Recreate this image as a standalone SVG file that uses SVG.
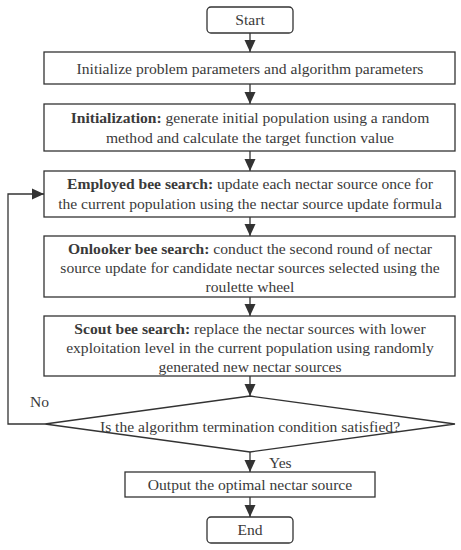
<svg xmlns="http://www.w3.org/2000/svg" width="461" height="550" viewBox="0 0 461 550">
<style>
.box{fill:#fff;stroke:#333;stroke-width:1.3}
.t{font-family:'Liberation Serif',serif;font-size:15.6px;fill:#3a3a3a;text-anchor:middle}
.l{font-family:'Liberation Serif',serif;font-size:15.6px;fill:#3a3a3a}
.b{font-weight:bold}
.c{fill:none;stroke:#333;stroke-width:1.3}
</style>
<defs>
<marker id="ah" markerUnits="userSpaceOnUse" markerWidth="12" markerHeight="14" viewBox="0 0 12 14" refX="12" refY="7" orient="auto">
<path d="M0,1.5 L12,7 L0,12.5 Z" fill="#333"/>
</marker>
</defs>
<rect width="461" height="550" fill="#fff"/>
<g id="connectors">
<line class="c" x1="250" y1="33" x2="250" y2="52" marker-end="url(#ah)"/>
<line class="c" x1="250" y1="84" x2="250" y2="104" marker-end="url(#ah)"/>
<line class="c" x1="250" y1="151" x2="250" y2="171" marker-end="url(#ah)"/>
<line class="c" x1="250" y1="217" x2="250" y2="236" marker-end="url(#ah)"/>
<line class="c" x1="250" y1="297" x2="250" y2="316" marker-end="url(#ah)"/>
<line class="c" x1="250" y1="376" x2="250" y2="396" marker-end="url(#ah)"/>
<line class="c" x1="250" y1="452" x2="250" y2="472" marker-end="url(#ah)"/>
<line class="c" x1="250" y1="497" x2="250" y2="517" marker-end="url(#ah)"/>
<polyline class="c" points="45,424 8,424 8,194 44,194" marker-end="url(#ah)"/>
<text class="l" x="30" y="407">No</text>
<text class="l" x="269" y="468">Yes</text>
</g>
<g id="start">
<rect class="box" x="207" y="7" width="86" height="26" rx="4"/>
<text class="t" x="250" y="25">Start</text>
</g>
<g id="init-params">
<rect class="box" x="44" y="52" width="411" height="32"/>
<text class="t" x="250" y="74">Initialize problem parameters and algorithm parameters</text>
</g>
<g id="initialization">
<rect class="box" x="44" y="104" width="411" height="47"/>
<text class="t" x="250" y="123"><tspan class="b">Initialization:</tspan> generate initial population using a random</text>
<text class="t" x="250" y="143">method and calculate the target function value</text>
</g>
<g id="employed">
<rect class="box" x="44" y="171" width="411" height="46"/>
<text class="t" x="250" y="189"><tspan class="b">Employed bee search:</tspan> update each nectar source once for</text>
<text class="t" x="250" y="209">the current population using the nectar source update formula</text>
</g>
<g id="onlooker">
<rect class="box" x="44" y="236" width="411" height="61"/>
<text class="t" x="250" y="254"><tspan class="b">Onlooker bee search:</tspan> conduct the second round of nectar</text>
<text class="t" x="250" y="273">source update for candidate nectar sources selected using the</text>
<text class="t" x="250" y="292">roulette wheel</text>
</g>
<g id="scout">
<rect class="box" x="44" y="316" width="411" height="60"/>
<text class="t" x="250" y="334"><tspan class="b">Scout bee search:</tspan> replace the nectar sources with lower</text>
<text class="t" x="250" y="353">exploitation level in the current population using randomly</text>
<text class="t" x="250" y="372">generated new nectar sources</text>
</g>
<g id="decision">
<polygon class="box" points="250,396 455,424 250,452 45,424"/>
<text class="t" x="250" y="432">Is the algorithm termination condition satisfied?</text>
</g>
<g id="output">
<rect class="box" x="125" y="472" width="250" height="25"/>
<text class="t" x="250" y="490">Output the optimal nectar source</text>
</g>
<g id="end">
<rect class="box" x="207" y="517" width="86" height="26" rx="4"/>
<text class="t" x="250" y="535">End</text>
</g>
</svg>
